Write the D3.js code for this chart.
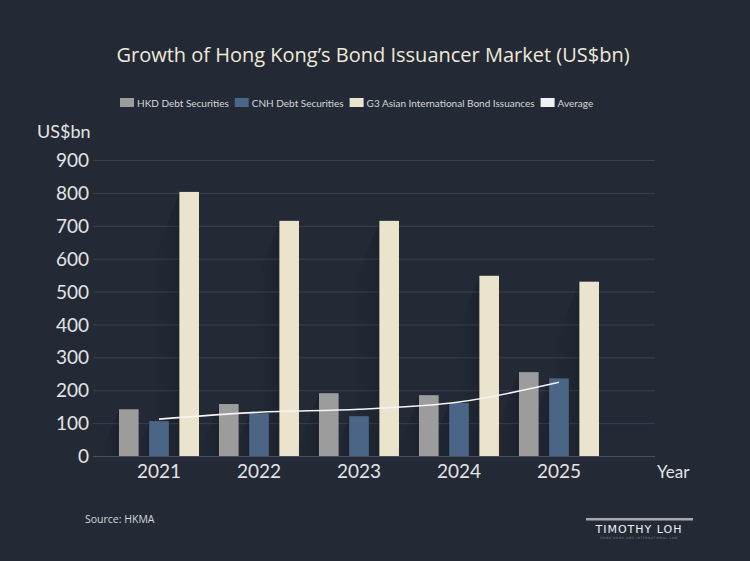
<!DOCTYPE html>
<html>
<head>
<meta charset="utf-8">
<script src="https://cdn.jsdelivr.net/npm/d3@7"></script>
<style>
  html, body { margin: 0; padding: 0; background: #232a36; }
  svg { display: block; }
</style>
</head>
<body>
<div id="chart"></div>
<script>
const years = ["2021", "2022", "2023", "2024", "2025"];
const seriesNames = ["HKD Debt Securities", "CNH Debt Securities", "G3 Asian International Bond Issuances"];
const hkd = [142, 158, 191, 185, 255];
const cnh = [106, 130, 121, 161, 236];
const g3 = [803, 715, 715, 548, 530];
const average = [112, 133, 142, 164, 224];
const yTicks = [0, 100, 200, 300, 400, 500, 600, 700, 800, 900];

const width = 750;
const height = 561;
const colors = ["#9c9c9c", "#4b6586", "#ebe4cd"];
const textColor = "#e4e4e4";

const svg = d3.select("#chart").append("svg")
  .attr("width", width)
  .attr("height", height);

svg.append("rect").attr("width", width).attr("height", height).attr("fill", "#232a36");

// shadow gradient
const defs = svg.append("defs");
const grad = defs.append("linearGradient").attr("id", "shadow")
  .attr("x1", "1").attr("x2", "0").attr("y1", "0").attr("y2", "0");
grad.append("stop").attr("offset", "0%").attr("stop-color", "#000").attr("stop-opacity", 0.16);
grad.append("stop").attr("offset", "100%").attr("stop-color", "#000").attr("stop-opacity", 0);

const y = d3.scaleLinear().domain([0, 900]).range([456, 160]);
const x = d3.scaleBand().domain(years).range([109, 609]);
const x1 = d3.scaleBand().domain(d3.range(3)).range([10, 90]).paddingInner(0.35);

// title
svg.append("text")
  .attr("x", 373).attr("y", 62)
  .attr("text-anchor", "middle")
  .attr("font-family", "Open Sans, sans-serif")
  .attr("font-size", 20)
  .attr("fill", "#efe9d8")
  .text("Growth of Hong Kong’s Bond Issuancer Market (US$bn)");

// legend
const legendItems = [
  { name: seriesNames[0], color: colors[0] },
  { name: seriesNames[1], color: colors[1] },
  { name: seriesNames[2], color: colors[2] },
  { name: "Average", color: "#f2f2f2" }
];
const legend = svg.append("g").attr("font-family", "Lato, sans-serif").attr("font-size", 10);
let lx = 120;
legendItems.forEach(item => {
  legend.append("rect").attr("x", lx).attr("y", 98).attr("width", 14).attr("height", 9).attr("fill", item.color);
  const t = legend.append("text").attr("x", lx + 17).attr("y", 107).attr("fill", "#d8d8d8").text(item.name);
  lx += 17 + t.node().getComputedTextLength() + 6;
});

// gridlines
svg.append("g")
  .selectAll("line")
  .data(yTicks.filter(d => d > 0))
  .join("line")
  .attr("x1", 93).attr("x2", 655)
  .attr("y1", d => y(d) + 0.5).attr("y2", d => y(d) + 0.5)
  .attr("stroke", "#394150").attr("stroke-width", 1);

// y axis labels
const yAxis = d3.axisLeft(y).tickValues(yTicks).tickSize(0).tickPadding(0);
svg.append("g")
  .attr("transform", "translate(89,0)")
  .call(yAxis)
  .call(g => g.select(".domain").remove())
  .call(g => g.selectAll("text")
    .attr("fill", textColor)
    .attr("font-family", "Lato, sans-serif")
    .attr("font-size", 19)
    .attr("dy", "0.35em"));

svg.append("text")
  .attr("x", 37).attr("y", 138)
  .attr("font-family", "Lato, sans-serif")
  .attr("font-size", 18)
  .attr("fill", textColor)
  .text("US$bn");

// bars
const table = years.map((yr, i) => ({ year: yr, values: [hkd[i], cnh[i], g3[i]] }));
const groups = svg.append("g")
  .selectAll("g")
  .data(table)
  .join("g")
  .attr("transform", d => `translate(${x(d.year)},0)`);

// soft diagonal shadows
groups.selectAll("path.shadow")
  .data(d => d.values.map((v, k) => ({ v, k })))
  .join("path")
  .attr("class", "shadow")
  .attr("fill", "url(#shadow)")
  .attr("d", d => {
    const x0 = x1(d.k);
    const top = y(d.v);
    const base = y(0);
    const w = Math.min((base - top) * 0.4, 24);
    return `M${x0},${top}L${x0},${base}L${x0 - w},${base}L${x0 - w},${top + w / 0.4}Z`;
  });

groups.selectAll("rect")
  .data(d => d.values.map((v, k) => ({ v, k })))
  .join("rect")
  .attr("x", d => x1(d.k))
  .attr("width", x1.bandwidth())
  .attr("y", d => y(d.v))
  .attr("height", d => y(0) - y(d.v))
  .attr("fill", d => colors[d.k]);

// baseline
svg.append("line")
  .attr("x1", 93).attr("x2", 655)
  .attr("y1", y(0) + 0.5).attr("y2", y(0) + 0.5)
  .attr("stroke", "#4a5262");

// x axis labels
const xAxis = d3.axisBottom(x).tickSize(0).tickPadding(0);
svg.append("g")
  .attr("transform", `translate(0,${y(0)})`)
  .call(xAxis)
  .call(g => g.select(".domain").remove())
  .call(g => g.selectAll("text")
    .attr("fill", textColor)
    .attr("font-family", "Lato, sans-serif")
    .attr("font-size", 19)
    .attr("dy", "1.15em"));

svg.append("text")
  .attr("x", 657).attr("y", 478)
  .attr("font-family", "Lato, sans-serif")
  .attr("font-size", 17)
  .attr("fill", textColor)
  .text("Year");

// average line
const line = d3.line()
  .x((d, i) => x(years[i]) + x1(1) + x1.bandwidth() / 2)
  .y(d => y(d))
  .curve(d3.curveMonotoneX);
svg.append("path")
  .datum(average)
  .attr("d", line)
  .attr("fill", "none")
  .attr("stroke", "#f4f4f4")
  .attr("stroke-width", 1.6);

// source
svg.append("text")
  .attr("x", 85).attr("y", 523)
  .attr("font-family", "Open Sans, sans-serif")
  .attr("font-size", 10.5)
  .attr("fill", "#d6d6d6")
  .text("Source: HKMA");

// logo
const logo = svg.append("g");
logo.append("rect").attr("x", 586).attr("y", 518).attr("width", 107).attr("height", 2.5).attr("fill", "#a7a9ad");
logo.append("text")
  .attr("x", 639).attr("y", 533)
  .attr("text-anchor", "middle")
  .attr("font-family", "DejaVu Sans, sans-serif")
  .attr("font-size", 11)
  .attr("letter-spacing", 1)
  .attr("fill", "#f0f0f0")
  .text("TIMOTHY LOH");
logo.append("text")
  .attr("x", 639).attr("y", 538.5)
  .attr("text-anchor", "middle")
  .attr("font-family", "DejaVu Sans, sans-serif")
  .attr("font-size", 3)
  .attr("letter-spacing", 0.6)
  .attr("fill", "#7b808a")
  .text("HONG KONG AND INTERNATIONAL LAW");
</script>
</body>
</html>
